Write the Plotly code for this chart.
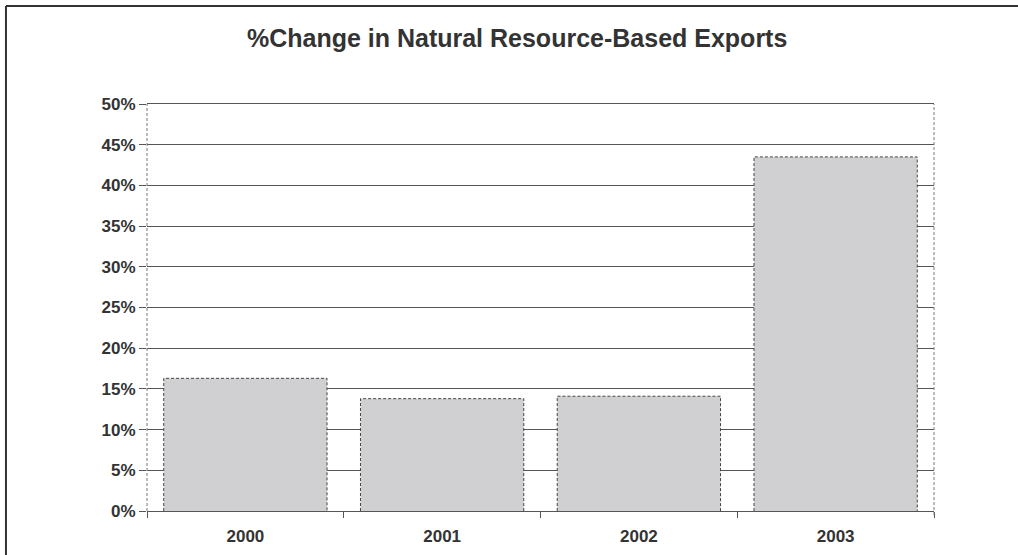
import plotly.graph_objects as go

years = ["2000", "2001", "2002", "2003"]
pct_change = [16.3, 13.8, 14.1, 43.5]
y_ticks = [0, 5, 10, 15, 20, 25, 30, 35, 40, 45, 50]
y_tick_labels = [f"{v}%" for v in y_ticks]

BAR_W = 0.83
x_pos = list(range(len(years)))

fig = go.Figure()

fig.add_trace(go.Bar(
    x=x_pos, y=pct_change, width=BAR_W,
    marker=dict(color="#d0d0d2", line=dict(width=0)),
    hoverinfo="skip", showlegend=False,
))

# dashed outlines around each bar
ox, oy = [], []
for i, v in zip(x_pos, pct_change):
    ox += [i - BAR_W / 2, i - BAR_W / 2, i + BAR_W / 2, i + BAR_W / 2, None]
    oy += [0, v, v, 0, None]
fig.add_trace(go.Scatter(
    x=ox, y=oy, mode="lines",
    line=dict(color="#444444", width=1, dash="3px,2px"),
    hoverinfo="skip", showlegend=False,
))

font_family = "Liberation Sans, Arial, sans-serif"

fig.update_layout(
    width=1018, height=555,
    margin=dict(l=147, r=84, t=104, b=44),
    paper_bgcolor="white", plot_bgcolor="white",
    title=dict(
        text="<b>%Change in Natural Resource-Based Exports</b>",
        x=0.508, xanchor="center", y=0.931, yanchor="middle",
        font=dict(family=font_family, size=25, color="#333333"),
    ),
    xaxis=dict(
        range=[-0.5, 3.5], automargin=False,
        tickvals=x_pos, ticktext=[f"<b>{y}</b>" for y in years],
        ticks="", showgrid=False, zeroline=False,
        showline=True, mirror=True, linecolor="#555555", linewidth=1,
        tickfont=dict(family=font_family, size=17, color="#333333"),
        minor=dict(tickvals=[-0.5, 0.5, 1.5, 2.5, 3.5], ticks="outside",
                   ticklen=6, tickcolor="#555555", tickwidth=1, showgrid=False),
        ticklabelstandoff=10,
    ),
    yaxis=dict(
        range=[0, 50], automargin=False,
        tickvals=y_ticks, ticktext=[f"<b>{t}</b>" for t in y_tick_labels],
        ticks="outside", ticklen=7, tickcolor="#555555", tickwidth=1,
        showgrid=True, gridcolor="#555555", gridwidth=1,
        zeroline=False, showline=False,
        tickfont=dict(family=font_family, size=17, color="#333333"),
        ticklabelstandoff=0,
    ),
    shapes=[
        # dashed side edges of the plot area
        dict(type="line", xref="paper", yref="paper", x0=0, x1=0, y0=0, y1=1,
             line=dict(color="#777777", width=1, dash="3px,2px")),
        dict(type="line", xref="paper", yref="paper", x0=1, x1=1, y0=-0.01, y1=1,
             line=dict(color="#777777", width=1, dash="3px,2px")),
        # outer frame: top and left edges
        dict(type="line", xref="paper", yref="paper",
             x0=-0.1792, x1=1.12, y0=1.2408, y1=1.2408,
             line=dict(color="#333333", width=2)),
        dict(type="line", xref="paper", yref="paper",
             x0=-0.1792, x1=-0.1792, y0=-0.12, y1=1.2408,
             line=dict(color="#333333", width=2)),
    ],
)

fig.write_html("out.html")
